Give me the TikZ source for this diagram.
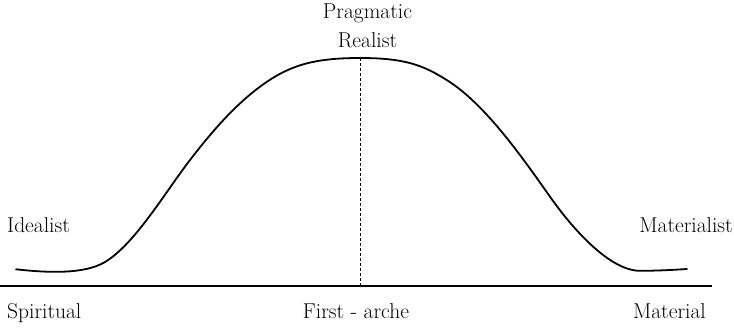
\documentclass[tikz,border=0pt]{standalone}
\usepackage{fontspec}
\begin{document}
\begin{tikzpicture}[x=1pt,y=-1pt,
  lbl/.style={inner sep=0pt,font=\fontsize{21.5}{25}\selectfont},
  curve/.style={line width=1.8pt,line cap=round},
  axis/.style={line width=1.1pt},
  divider/.style={line width=0.8pt,dash pattern=on 3pt off 2pt}]
\useasboundingbox (0,0) rectangle (734,327);
% axis
\coordinate (axL) at (0,286);
\coordinate (axR) at (712,286);
\draw[axis] (axL) -- (axR);
% curve
\draw[curve] (16,269.3) .. controls (45,272.5) and (83.6,274.9) .. (105,262)
  .. controls (135,244) and (165.6,191.6) .. (190,160)
  .. controls (210.1,133.9) and (233.5,106.3) .. (260,86.7)
  .. controls (288.1,65.9) and (312,58) .. (360,58)
  .. controls (405,58) and (423,65.2) .. (446.7,80)
  .. controls (484.9,103.9) and (521.2,155.9) .. (550,196.7)
  .. controls (573,229.4) and (610,270.8) .. (640,270.8)
  .. controls (656,270.8) and (672,270) .. (687,269);
% dashed divider
\coordinate (top) at (360,58);
\coordinate (bot) at (360,286);
\draw[divider] (top) -- (bot);
% labels
\node[lbl,anchor=base west] (ideal) at (7,232) {Idealist};
\node[lbl,anchor=base east] (mater) at (733,232) {Materialist};
\node[lbl,anchor=base west] (spir) at (7,318) {Spiritual};
\node[lbl,anchor=base east] (matl) at (706,318) {Material};
\node[lbl,anchor=base] (first) at (356,318) {First - arche};
\node[lbl,anchor=base] (prag) at (367.5,18) {Pragmatic};
\node[lbl,anchor=base] (real) at (367.5,47) {Realist};
\end{tikzpicture}
\end{document}
